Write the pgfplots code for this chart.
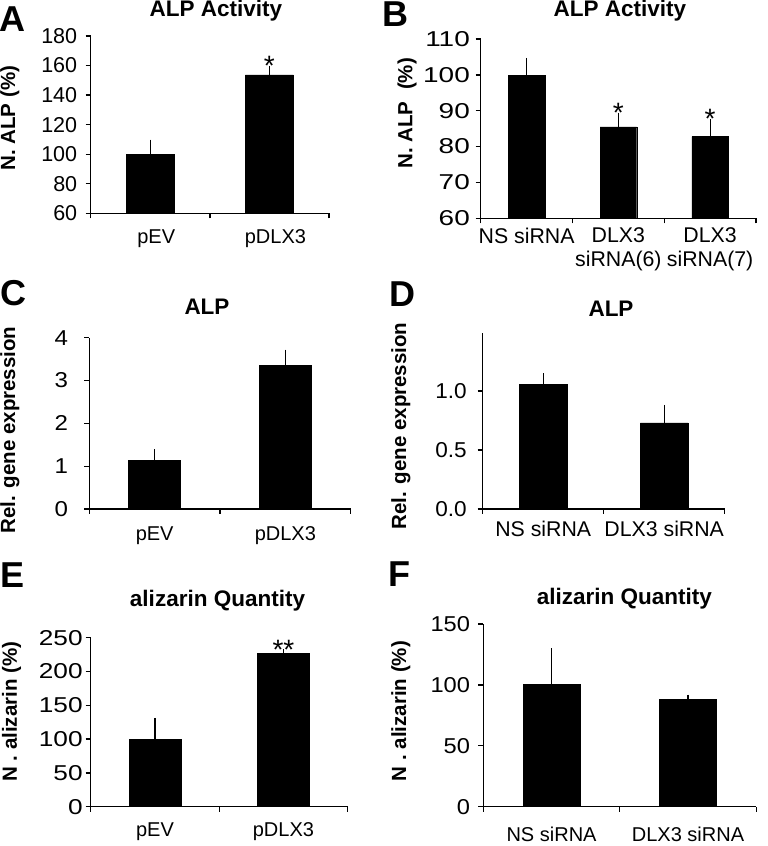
\documentclass[border=0pt]{standalone}
\usepackage{fontspec}
\setmainfont{Liberation Sans}
\usepackage{pgfplots}
\pgfplotsset{compat=1.18}

\newcommand{\tickfont}{\fontsize{21.5}{25}\selectfont}
\newcommand{\labfont}{\fontsize{20}{24}\selectfont}
\newcommand{\labfontb}{\fontsize{21.3}{24}\selectfont}
\newcommand{\titfont}{\bfseries\fontsize{22.5}{26}\selectfont}
\newcommand{\ylabfont}{\bfseries\fontsize{20.5}{24}\selectfont}
\newcommand{\letfont}{\bfseries\fontsize{36}{40}\selectfont}
\newcommand{\starfont}{\fontsize{28}{30}\selectfont}

\pgfplotsset{
  panel/.style={
    scale only axis,
    anchor=south west,
    axis lines*=left,
    enlargelimits=false,
    axis line style={line width=1.3pt, black},
    tick align=outside,
    major tick length=5pt,
    every tick/.style={black, line width=1.3pt},
    tick label style={font=\tickfont},
    /pgf/number format/assume math mode=true,
    xticklabels={},
    extra x tick style={major tick length=0pt},
    extra x tick labels={},
  },
  bars/.style={
    ybar, bar shift=0pt, bar width=#1, fill=black, draw=black,
    error bars/.cd, y dir=plus, y explicit,
    error bar style={line width=1.2pt, black},
    error mark options={black, line width=1.2pt, mark size=3pt},
  },
  stars/.style={
    draw=none, mark=none, nodes near coords, point meta=explicit symbolic,
    nodes near coords style={font=\starfont, anchor=base, yshift=-7pt, inner sep=0pt},
  },
}

\begin{document}
\begin{tikzpicture}
\path[use as bounding box] (0pt,0pt) rectangle (768pt,846pt);

% ---------------- A ----------------
\begin{axis}[panel, at={(90.7pt,632.7pt)}, width=238.3pt, height=177.3pt,
  xmin=-0.5, xmax=1.5, ymin=60, ymax=180, ytick={60,80,...,180},
  yticklabel style={xshift=-5pt},
  xtick={-0.5,0.5,1.5},
  extra x ticks={0,1}, extra x tick labels={pEV,pDLX3},
  extra x tick style={major tick length=0pt, xticklabel style={font=\labfont, anchor=base, yshift=-30.7pt, xshift=6pt}}]
\addplot[bars=48pt] table[x=x, y=y, y error=e, row sep=\\] {x y e\\ 0 100 7.8\\ 1 153.6 4.1\\};
\addplot[stars] table[x=x, y=y, meta=t, row sep=\\] {x y t\\ 1 157.7 *\\};
\end{axis}

% ---------------- B ----------------
\begin{axis}[panel, at={(480.7pt,627.7pt)}, width=275.3pt, height=179.3pt,
  xmin=-0.5, xmax=2.5, ymin=60, ymax=110, ytick={60,70,...,110},
  yticklabel style={xscale=1.3, xshift=-1pt},
  xtick={-0.5,0.5,1.5,2.5},
  extra x ticks={0,1,2}, extra x tick labels={NS siRNA,{DLX3\\siRNA(6)},{DLX3\\siRNA(7)}},
  extra x tick style={major tick length=0pt, xticklabel style={font=\labfontb, align=center, anchor=north, yshift=-6pt}}]
\addplot[bars=36.7pt] table[x=x, y=y, y error=e, row sep=\\] {x y e\\ 0 99.8 4.1\\ 1 85.5 3.1\\ 2 82.8 4.1\\};
\addplot[stars] table[x=x, y=y, meta=t, row sep=\\] {x y t\\ 1 88.6 *\\ 2 86.9 *\\};
\end{axis}

% ---------------- C ----------------
\begin{axis}[panel, at={(89.3pt,337pt)}, width=261.4pt, height=171.3pt,
  xmin=-0.5, xmax=1.5, ymin=0, ymax=4, ytick={0,1,2,3,4},
  yticklabel style={xscale=1.12, xshift=-11pt},
  xtick={-0.5,0.5,1.5},
  extra x ticks={0,1}, extra x tick labels={pEV,pDLX3},
  extra x tick style={major tick length=0pt, xticklabel style={font=\labfont, anchor=base, yshift=-31.7pt}}]
\addplot[bars=52pt] table[x=x, y=y, y error=e, row sep=\\] {x y e\\ 0 1.13 0.19\\ 1 3.36 0.29\\};
\end{axis}

% ---------------- D ----------------
\begin{axis}[panel, at={(482.7pt,337pt)}, width=242pt, height=175.7pt,
  xmin=-0.5, xmax=1.5, ymin=0, ymax=1.49, ytick={0,0.5,1},
  yticklabel style={xscale=1.05, xshift=-7pt, /pgf/number format/.cd, fixed, fixed zerofill, precision=1},
  xtick={-0.5,0.5,1.5},
  extra x ticks={0,1}, extra x tick labels={NS siRNA,DLX3 siRNA},
  extra x tick style={major tick length=0pt, xticklabel style={font=\labfontb, anchor=base, yshift=-27.7pt}}]
\addplot[bars=47.7pt] table[x=x, y=y, y error=e, row sep=\\] {x y e\\ 0 1.06 0.065\\ 1 0.73 0.127\\};
\end{axis}

% ---------------- E ----------------
\begin{axis}[panel, at={(90.7pt,39.3pt)}, width=257pt, height=169pt,
  xmin=-0.5, xmax=1.5, ymin=0, ymax=250, ytick={0,50,...,250},
  yticklabel style={xscale=1.22, xshift=1pt},
  xtick={-0.5,0.5,1.5},
  extra x ticks={0,1}, extra x tick labels={pEV,pDLX3},
  extra x tick style={major tick length=0pt, xticklabel style={font=\labfont, anchor=base, yshift=-30pt}}]
\addplot[bars=51.7pt] table[x=x, y=y, y error=e, row sep=\\] {x y e\\ 0 100 27\\ 1 226.8 1.5\\};
\addplot[stars] table[x=x, y=y, meta=t, row sep=\\] {x y t\\ 1 228.3 **\\};
\end{axis}

% ---------------- F ----------------
\begin{axis}[panel, at={(483.3pt,39.3pt)}, width=273pt, height=182.7pt,
  xmin=-0.5, xmax=1.5, ymin=0, ymax=150, ytick={0,50,100,150},
  yticklabel style={xscale=1.1, xshift=-4pt},
  xtick={-0.5,0.5,1.5},
  extra x ticks={0,1}, extra x tick labels={NS siRNA,DLX3 siRNA},
  extra x tick style={major tick length=0pt, xticklabel style={font=\labfont, anchor=base, yshift=-34.5pt}}]
\addplot[bars=57pt] table[x=x, y=y, y error=e, row sep=\\] {x y e\\ 0 100.5 27.3\\ 1 87.9 1.6\\};
\end{axis}

% ---------------- titles ----------------
\node[font=\titfont, anchor=base, inner sep=0pt] at (215.8pt,829.3pt) {ALP Activity};
\node[font=\titfont, anchor=base, inner sep=0pt] at (619.8pt,829.3pt) {ALP Activity};
\node[font=\titfont, anchor=base, inner sep=0pt] at (207pt,531pt) {ALP};
\node[font=\titfont, anchor=base, inner sep=0pt] at (611pt,529.3pt) {ALP};
\node[font=\titfont, anchor=base, inner sep=0pt] at (217.5pt,239.3pt) {alizarin Quantity};
\node[font=\titfont, anchor=base, inner sep=0pt] at (624.3pt,241pt) {alizarin Quantity};

% ---------------- y labels ----------------
\node[font=\ylabfont, rotate=90, anchor=base, inner sep=0pt] at (15pt,727.7pt) {N. ALP (\%)};
\node[font=\ylabfont, rotate=90, anchor=base, inner sep=0pt] at (412.3pt,732.7pt) {N. ALP\ \ (\%)};
\node[font=\ylabfont, rotate=90, anchor=base, inner sep=0pt] at (15pt,416pt) {Rel. gene expression};
\node[font=\ylabfont, rotate=90, anchor=base, inner sep=0pt] at (406pt,420pt) {Rel. gene expression};
\node[font=\ylabfont, rotate=90, anchor=base, inner sep=0pt] at (17pt,134.3pt) {N . alizarin (\%)};
\node[font=\ylabfont, rotate=90, anchor=base, inner sep=0pt] at (406pt,135pt) {N . alizarin (\%)};

% ---------------- panel letters ----------------
\node[font=\letfont, anchor=base west, inner sep=0pt] at (-1pt,814pt) {A};
\node[font=\letfont, anchor=base west, inner sep=0pt] at (382pt,819pt) {B};
\node[font=\letfont, anchor=base west, inner sep=0pt] at (0pt,540pt) {C};
\node[font=\letfont, anchor=base west, inner sep=0pt] at (389.7pt,539pt) {D};
\node[font=\letfont, anchor=base west, inner sep=0pt] at (0.7pt,258pt) {E};
\node[font=\letfont, anchor=base west, inner sep=0pt] at (388pt,259pt) {F};
\end{tikzpicture}
\end{document}
